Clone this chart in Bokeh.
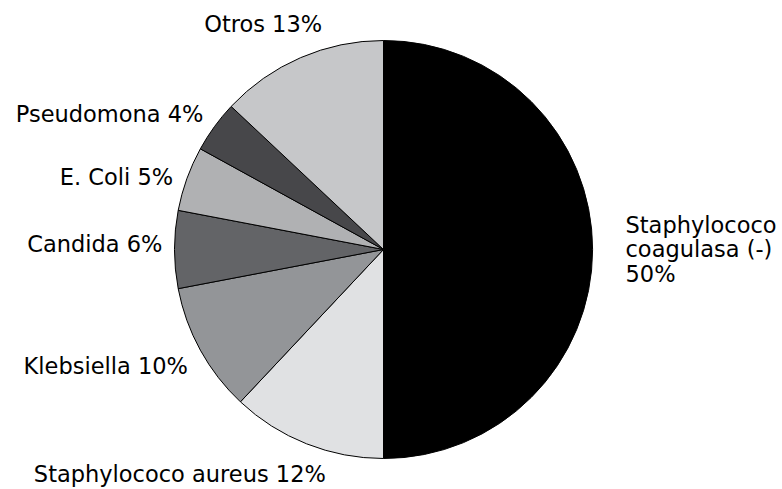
import math
from bokeh.plotting import figure
from bokeh.models import Range1d, ColumnDataSource
from bokeh.core.properties import value
from bokeh.embed import file_html
from bokeh.resources import INLINE

# ---- data ----
categories = ["Staphylococo\ncoagulasa (-)", "Staphylococo aureus", "Klebsiella",
              "Candida", "E. Coli", "Pseudomona", "Otros"]
percent = [50, 12, 10, 6, 5, 4, 13]
colors = ["#000000", "#e0e1e3", "#939598", "#636467", "#b0b1b3", "#47474a", "#c6c7c9"]

# ---- layout / style ----
W, H = 782, 489
CX, CY = 383, 240      # pie centre in plot units (1 unit = 1 px, y up)
R = 209
LABEL_R = 230
FONT = "DejaVu Sans"
FSIZE = "22.5px"
# per-label alignment and pixel nudges from the radial anchor
label_align = ["left", "right", "right", "right", "right", "right", "center"]
label_base = ["middle", "alphabetic", "alphabetic", "alphabetic", "alphabetic", "alphabetic", "alphabetic"]
label_dx = [12, 27, 6, 9, 6, 6, -29]
label_dy = [0, 11, 6, -6, 5, 0, -14]

total = float(sum(percent))
starts, ends, lx, ly, texts = [], [], [], [], []
cum = 0.0
for cat, v in zip(categories, percent):
    a0 = cum / total
    cum += v
    a1 = cum / total
    starts.append(math.pi / 2 - 2 * math.pi * a0)
    ends.append(math.pi / 2 - 2 * math.pi * a1)
    mid = (a0 + a1) / 2 * 2 * math.pi
    lx.append(CX + LABEL_R * math.sin(mid))
    ly.append(CY + LABEL_R * math.cos(mid))
    sep = "\n" if "\n" in cat else " "
    texts.append(f"{cat}{sep}{v}%")

p = figure(width=W, height=H, output_backend="svg", toolbar_location=None,
           x_range=Range1d(0, W), y_range=Range1d(0, H), min_border=0)
p.axis.visible = False
p.grid.visible = False
p.outline_line_color = None
p.background_fill_color = "white"
p.border_fill_color = "white"

src = ColumnDataSource(dict(x=[CX] * len(percent), y=[CY] * len(percent),
                            start=starts, end=ends, color=colors))
p.wedge(x="x", y="y", radius=R, start_angle="start", end_angle="end",
        direction="clock", fill_color="color", line_color="black",
        line_width=1, source=src)

for i, t in enumerate(texts):
    p.text(x=[lx[i]], y=[ly[i]], text=[t], text_font=value(FONT),
           text_font_size=FSIZE, text_color="#000000",
           text_align=label_align[i], text_baseline=label_base[i],
           x_offset=label_dx[i], y_offset=label_dy[i], text_line_height=0.95)

open("out.html", "w").write(file_html(p, INLINE))
